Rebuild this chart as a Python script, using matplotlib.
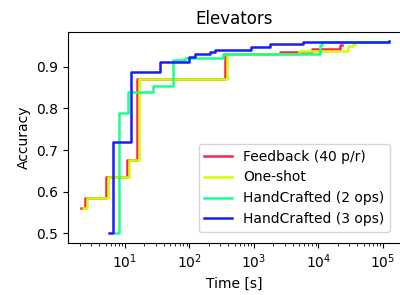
import numpy as np
import matplotlib
matplotlib.use('Agg')
import matplotlib.pyplot as plt

# time [s] and accuracy at each change point (step curves)
feedback_t = [2.1, 2.4, 5.1, 10.8, 15.5, 360, 2500, 8000, 21500, 23000]
feedback_acc = [0.562, 0.584, 0.636, 0.675, 0.870, 0.930, 0.936, 0.942, 0.952, 0.952]

oneshot_t = [2.25, 2.55, 5.4, 11.4, 16.3, 385, 5000, 29000, 34000, 37000]
oneshot_acc = [0.562, 0.584, 0.636, 0.675, 0.870, 0.930, 0.937, 0.950, 0.955, 0.955]

hc2_t = [7.0, 8.2, 11.2, 27.4, 55, 85, 330, 10500, 11500, 125000]
hc2_acc = [0.500, 0.788, 0.838, 0.854, 0.916, 0.920, 0.930, 0.952, 0.958, 0.958]

hc3_t = [5.7, 6.4, 12.3, 35, 100, 122, 208, 248, 766, 912, 1760, 5690, 126000]
hc3_acc = [0.500, 0.719, 0.888, 0.910, 0.922, 0.930, 0.936, 0.940, 0.940, 0.948, 0.954, 0.960, 0.962]

series = [
    ('Feedback (40 p/r)', feedback_t, feedback_acc, '#ff1f4f'),
    ('One-shot', oneshot_t, oneshot_acc, '#ccff00'),
    ('HandCrafted (2 ops)', hc2_t, hc2_acc, '#1aff8c'),
    ('HandCrafted (3 ops)', hc3_t, hc3_acc, '#1a1aff'),
]

fig = plt.figure(figsize=(4.0, 2.95), dpi=100)
ax = fig.add_axes([68 / 400, 1 - 243 / 295, 333 / 400, 211 / 295])

for label, t, acc, col in series:
    ax.plot(t, acc, drawstyle='steps-post', color=col, lw=1.8, label=label)

ax.set_xscale('log')
ax.set_xlim(10 ** 0.116, 10 ** 5.28)
ax.set_ylim(0.477, 0.983)
ax.set_yticks([0.5, 0.6, 0.7, 0.8, 0.9])
ax.set_title('Elevators', fontsize=12)
ax.set_xlabel('Time [s]')
ax.set_ylabel('Accuracy')
ax.spines['right'].set_visible(False)
ax.legend(loc='lower right', borderaxespad=0.8)

plt.savefig('out.png', dpi=100)
plt.close()
